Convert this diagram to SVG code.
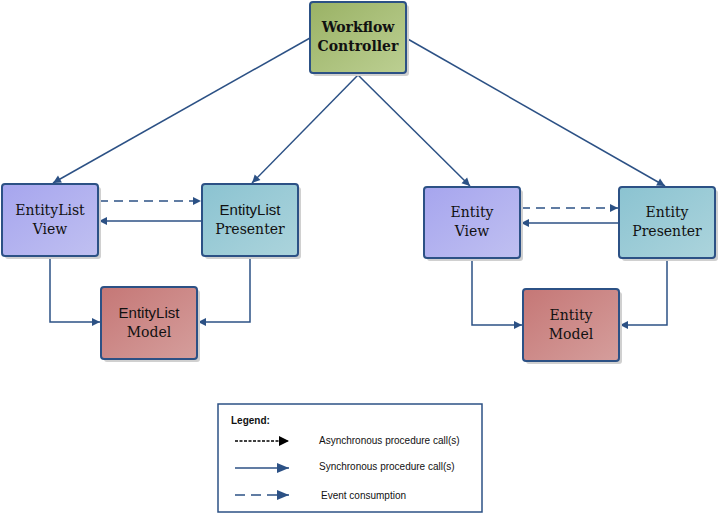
<svg xmlns="http://www.w3.org/2000/svg" width="720" height="514" viewBox="0 0 720 514">
<defs>
<linearGradient id="gView" x1="0" y1="0" x2="1" y2="1"><stop offset="0" stop-color="#a6a5ee"/><stop offset="1" stop-color="#c0c0f1"/></linearGradient>
<linearGradient id="gPres" x1="0" y1="0" x2="1" y2="1"><stop offset="0" stop-color="#8bc3d1"/><stop offset="1" stop-color="#acd4dc"/></linearGradient>
<linearGradient id="gModel" x1="0" y1="0" x2="1" y2="1"><stop offset="0" stop-color="#c57776"/><stop offset="1" stop-color="#d59e9c"/></linearGradient>
<linearGradient id="gCtrl" x1="0" y1="0" x2="1" y2="1"><stop offset="0" stop-color="#9ab265"/><stop offset="1" stop-color="#bccf92"/></linearGradient>
<marker id="ab" markerWidth="10" markerHeight="10" refX="9" refY="5" orient="auto" markerUnits="userSpaceOnUse"><path d="M1,1 L9,5 L1,9 Z" fill="#2c5185"/></marker>
<marker id="ak" markerWidth="12" markerHeight="12" refX="11" refY="6" orient="auto" markerUnits="userSpaceOnUse"><path d="M1,1 L11,6 L1,11 Z" fill="#000"/></marker>
<marker id="al" markerWidth="14" markerHeight="12" refX="13" refY="6" orient="auto" markerUnits="userSpaceOnUse"><path d="M1,1 L13,6 L1,11 Z" fill="#2c5185"/></marker>
</defs>
<style>
.box{stroke:#2c5185;stroke-width:2}
.sh{fill:#d0d0d0}
.t{font-family:"DejaVu Serif","Liberation Serif",serif;font-size:14px;fill:#111;text-anchor:middle}
.ts{font-family:"Liberation Sans",Arial,sans-serif;font-size:15px;fill:#111;text-anchor:middle}
.tb{font-family:"DejaVu Serif","Liberation Serif",serif;font-size:14px;font-weight:bold;fill:#111;text-anchor:middle}
.c{fill:none;stroke:#2c5185;stroke-width:1.5}
.d{stroke-dasharray:9,6}
.lt{font-family:"Liberation Sans",Arial,sans-serif;font-size:10px;fill:#111}
</style>

<g id="connectors">
<line class="c" x1="310" y1="38" x2="53" y2="183" marker-end="url(#ab)"/>
<line class="c" x1="358" y1="75" x2="252" y2="183" marker-end="url(#ab)"/>
<line class="c" x1="358" y1="75" x2="470" y2="186" marker-end="url(#ab)"/>
<line class="c" x1="406" y1="38" x2="665" y2="186" marker-end="url(#ab)"/>
<line class="c d" x1="99" y1="201" x2="201" y2="201" marker-end="url(#ab)"/>
<line class="c" x1="201" y1="221" x2="99" y2="221" marker-end="url(#ab)"/>
<polyline class="c" points="50,257 50,322 100,322" marker-end="url(#ab)"/>
<polyline class="c" points="250,257 250,322 198,322" marker-end="url(#ab)"/>
<line class="c d" x1="521" y1="208" x2="618" y2="208" marker-end="url(#ab)"/>
<line class="c" x1="618" y1="223" x2="521" y2="223" marker-end="url(#ab)"/>
<polyline class="c" points="472,259 472,325 522,325" marker-end="url(#ab)"/>
<polyline class="c" points="667,259 667,325 620,325" marker-end="url(#ab)"/>
</g>

<g id="workflow-controller">
<rect class="sh" x="313" y="5" width="96" height="71" rx="3"/>
<rect class="box" x="310" y="2" width="96" height="71" rx="3" fill="url(#gCtrl)"/>
<text class="tb" x="358" y="32">Workflow</text>
<text class="tb" x="358" y="51">Controller</text>
</g>

<g id="entitylist-view">
<rect class="sh" x="5" y="187" width="96" height="72" rx="3"/>
<rect class="box" x="2" y="184" width="96" height="72" rx="3" fill="url(#gView)"/>
<text class="t" x="50" y="215">EntityList</text>
<text class="t" x="50" y="234">View</text>
</g>

<g id="entitylist-presenter">
<rect class="sh" x="205" y="187" width="96" height="72" rx="3"/>
<rect class="box" x="202" y="184" width="96" height="72" rx="3" fill="url(#gPres)"/>
<text class="ts" x="250" y="215">EntityList</text>
<text class="t" x="250" y="234">Presenter</text>
</g>

<g id="entitylist-model">
<rect class="sh" x="104" y="290" width="96" height="72" rx="3"/>
<rect class="box" x="101" y="287" width="96" height="72" rx="3" fill="url(#gModel)"/>
<text class="ts" x="149" y="318">EntityList</text>
<text class="t" x="149" y="337">Model</text>
</g>

<g id="entity-view">
<rect class="sh" x="427" y="190" width="96" height="71" rx="3"/>
<rect class="box" x="424" y="187" width="96" height="71" rx="3" fill="url(#gView)"/>
<text class="t" x="472" y="217">Entity</text>
<text class="t" x="472" y="236">View</text>
</g>

<g id="entity-presenter">
<rect class="sh" x="622" y="190" width="96" height="71" rx="3"/>
<rect class="box" x="619" y="187" width="96" height="71" rx="3" fill="url(#gPres)"/>
<text class="t" x="667" y="217">Entity</text>
<text class="t" x="667" y="236">Presenter</text>
</g>

<g id="entity-model">
<rect class="sh" x="526" y="292" width="96" height="72" rx="3"/>
<rect class="box" x="523" y="289" width="96" height="72" rx="3" fill="url(#gModel)"/>
<text class="t" x="571" y="320">Entity</text>
<text class="t" x="571" y="339">Model</text>
</g>

<g id="legend">
<rect x="218" y="404" width="264" height="108" fill="#fff" stroke="#2c5185" stroke-width="1.5"/>
<text class="lt" x="231" y="424" font-weight="bold">Legend:</text>
<line x1="235" y1="441" x2="289" y2="441" stroke="#000" stroke-width="1.5" stroke-dasharray="3,1.5" marker-end="url(#ak)"/>
<line x1="235" y1="468" x2="289" y2="468" stroke="#2c5185" stroke-width="1.5" marker-end="url(#al)"/>
<line x1="235" y1="495" x2="289" y2="495" stroke="#2c5185" stroke-width="1.5" stroke-dasharray="10,6" marker-end="url(#al)"/>
<text class="lt" x="319" y="444">Asynchronous procedure call(s)</text>
<text class="lt" x="319" y="470">Synchronous procedure call(s)</text>
<text class="lt" x="321" y="499">Event consumption</text>
</g>
</svg>
